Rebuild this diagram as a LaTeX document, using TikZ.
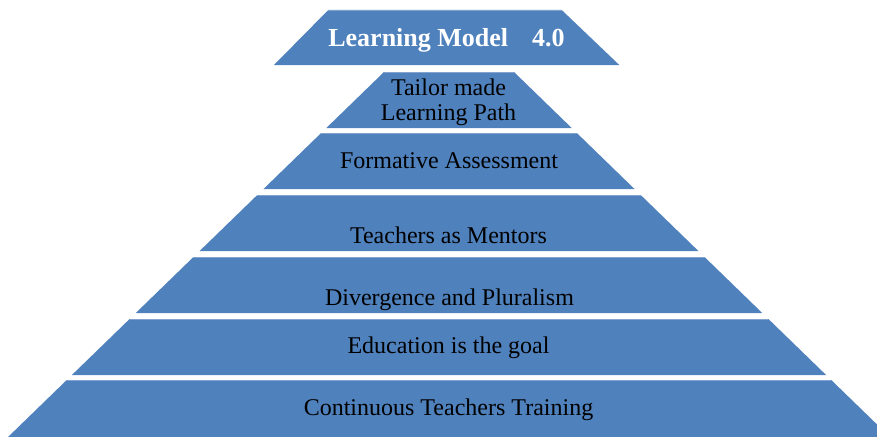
\documentclass[tikz,border=0pt]{standalone}
\usepackage{fontspec}
\setmainfont{Liberation Serif}
\definecolor{pyrblue}{RGB}{79,129,189}
\definecolor{pyredge}{RGB}{130,162,208}
\begin{document}
\begin{tikzpicture}[x=1pt,y=-1pt,
  band/.style={fill=pyrblue,draw=none},
  topedge/.style={draw=pyredge,line width=0.8pt},
  lbl/.style={anchor=base,inner sep=0pt,text=black,font=\fontsize{24}{28}\selectfont},
  ttl/.style={anchor=base,inner sep=0pt,text=white,font=\fontsize{26}{30}\selectfont\bfseries}]
\useasboundingbox (0,0) rectangle (877,436);
\clip (0,0) rectangle (877,436);
% pyramid geometry: centre 449, half width 65 + 1.03*(y-72)
\def\cx{449}
\newcommand{\pyrband}[3]{% name, top y, bottom y
  \pgfmathsetmacro{\hwt}{65+1.03*(#2-72)}
  \pgfmathsetmacro{\hwb}{65+1.03*(#3-72)}
  \path[band] (\cx-\hwt,#2) coordinate (#1tl) -- (\cx+\hwt,#2) coordinate (#1tr)
     -- (\cx+\hwb,#3) coordinate (#1br) -- (\cx-\hwb,#3) coordinate (#1bl) -- cycle;
  \draw[topedge] (#1tl) -- (#1tr);
}
% title trapezoid
\path[band] (328.3,10) coordinate (b1tl) -- (561.7,10) coordinate (b1tr)
  -- (619.3,65) coordinate (b1br) -- (274,65) coordinate (b1bl) -- cycle;
\draw[topedge] (b1tl) -- (b1tr);
\pyrband{b2}{72}{128}
\pyrband{b3}{133}{189}
\pyrband{b4}{195}{251}
\pyrband{b5}{257}{313}
\pyrband{b6}{319}{375}
\pyrband{b7}{380}{437}
% labels
\node[ttl] (t1) at (446.5,46) {Learning Model\hspace{24pt}4.0};
\node[lbl] (t2a) at (448.5,95) {Tailor made};
\node[lbl] (t2b) at (448.5,120) {Learning Path};
\node[lbl] (t3) at (449,168) {Formative Assessment};
\node[lbl] (t4) at (448.5,243.3) {Teachers as Mentors};
\node[lbl] (t5) at (449.5,305.7) {Divergence and Pluralism};
\node[lbl] (t6) at (448.5,353.3) {Education is the goal};
\node[lbl] (t7) at (448.5,415.7) {Continuous Teachers Training};
\end{tikzpicture}
\end{document}
